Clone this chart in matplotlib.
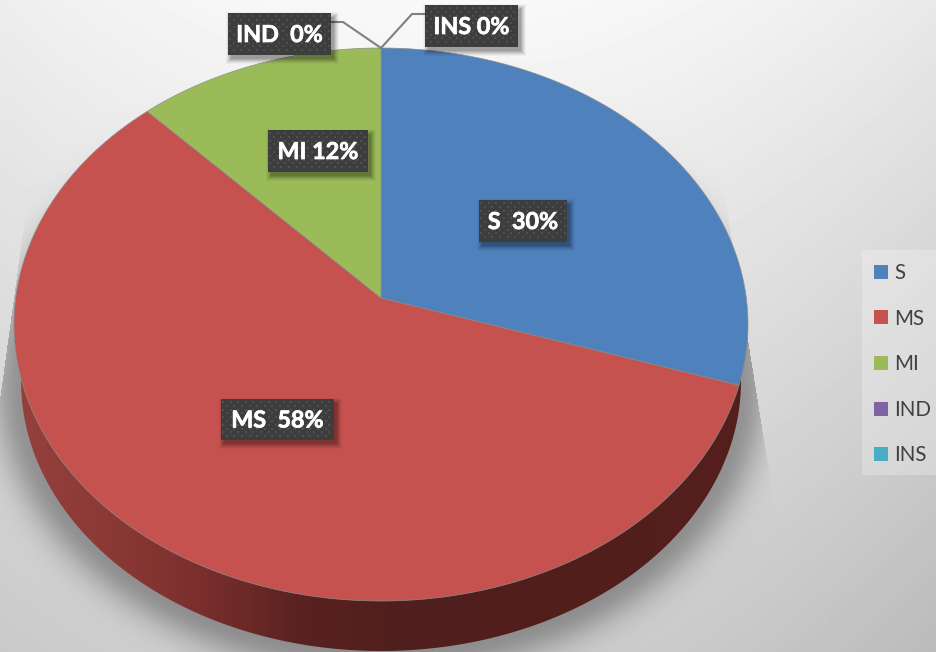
import numpy as np
import matplotlib
matplotlib.use('Agg')
import matplotlib.pyplot as plt
import matplotlib.patheffects as pe
from matplotlib.patches import Polygon, Rectangle

plt.rcParams['font.family'] = ['Lato', 'DejaVu Sans']

categories = ['S', 'MS', 'MI', 'IND', 'INS']
values = [30, 58, 12, 0, 0]
colors = ['#4f81bd', '#c5524f', '#9bbb59', '#8064a2', '#4bacc6']
label_texts = ['S  30%', 'MS  58%', 'MI 12%', 'IND  0%', 'INS 0%']

W, H = 937, 652

# label boxes: x0, x1, y0, y1
boxes = [(479, 567, 200, 242), (221, 334, 399, 440), (268, 368, 130, 172),
         (228, 331, 13, 55), (425, 518, 5, 47)]
leaders = {3: [(331, 22), (343, 22), (381, 48)], 4: [(425, 14), (412, 14), (381, 48)]}

# top face is a tilted disc, so the centre sits above the middle of the ellipse
APEX_X, APEX_Y = 381, 298
TOP_Y, BOT_Y = 48, 601
RX = 367
c = (APEX_Y * 2 - TOP_Y - BOT_Y) / (TOP_Y - BOT_Y)
a = TOP_Y * (1 + c) - APEX_Y
k = RX * np.sqrt(1 - c ** 2)


def project(theta):
    # theta runs clockwise from twelve o'clock
    u, v = np.sin(theta), np.cos(theta)
    den = 1 + c * v
    return APEX_X + k * u / den, (a * v + APEX_Y) / den


def wedge_outline(start, stop):
    t = np.linspace(start, stop, 200)
    x, y = project(t)
    return np.column_stack([np.r_[APEX_X, x], np.r_[APEX_Y, y]])


# lower rim of the disc
LOW_X, LOW_Y, LOW_RX, LOW_RY = 381, 381, 360, 270

fig = plt.figure(figsize=(W / 100, H / 100), dpi=100)
ax = fig.add_axes([0, 0, 1, 1])

# background and shadow
yy, xx = np.mgrid[0:H, 0:W] + 0.5
bg = 249 - 13 * (np.abs(xx - 430) / 450) ** 2 - 36 * (yy / H) - 10 * (xx / W) * (yy / H)
f = np.sqrt(((xx - LOW_X) / LOW_RX) ** 2 + ((yy - LOW_Y) / LOW_RY) ** 2)
d = np.clip((f - 1) * np.hypot(xx - LOW_X, yy - LOW_Y) / f, 0, None)
shadow = 0.32 * np.exp(-(d / 30) ** 2)
keep = (xx < 748 + (yy - 340) * 0.16) & (xx > 22 - (yy - 240) * 0.1375)
bg = bg * (1 - shadow * keep)
ax.imshow(np.clip(bg, 0, 255), cmap='gray', vmin=0, vmax=255, extent=[0, W, H, 0],
          aspect='auto', zorder=0, interpolation='bilinear')

# side wall
t = np.linspace(0, 2 * np.pi, 400)
low_poly = Polygon(np.column_stack([LOW_X + LOW_RX * np.sin(t), LOW_Y + LOW_RY * np.cos(t)]),
                   transform=ax.transData, facecolor='none', edgecolor='none')
ax.add_patch(low_poly)
stops = [20, 120, 200, 300, 400, 740]
r = np.interp(np.arange(W), stops, [150, 137, 122, 90, 80, 84])
g = np.interp(np.arange(W), stops, [64, 56, 47, 34, 31, 30])
b = np.interp(np.arange(W), stops, [60, 52, 45, 32, 29, 28])
side = np.dstack([r, g, b])[0:1].astype(np.uint8)
im = ax.imshow(side, extent=[0, W, H, 0], aspect='auto', zorder=1)
im.set_clip_path(low_poly)

# top face
edges = np.r_[0, np.cumsum(values)] / np.sum(values) * 2 * np.pi
for i in range(len(values)):
    if values[i] > 0:
        ax.add_patch(Polygon(wedge_outline(edges[i], edges[i + 1]), closed=True, facecolor=colors[i],
                             edgecolor='#8c8f8c', linewidth=0.5, zorder=2))

# leader lines
for i in leaders:
    lx, ly = zip(*leaders[i])
    ax.plot(lx, ly, color='#808080', linewidth=1.5, zorder=3, solid_joinstyle='miter')

# data labels
for i, (x0, x1, y0, y1) in enumerate(boxes):
    for grow, alpha in zip([5, 4, 3, 2, 1, 0], [0.03, 0.05, 0.06, 0.08, 0.09, 0.10]):
        ax.add_patch(Rectangle((x0 + 3 - grow, y0 + 4 - grow), x1 - x0 + 2 * grow, y1 - y0 + 2 * grow,
                               facecolor='black', edgecolor='none', alpha=alpha, zorder=4))
    ax.add_patch(Rectangle((x0, y0), x1 - x0, y1 - y0, facecolor='#3d3d3d', edgecolor='none', zorder=5))
    rows = np.arange(y0 + 3, y1 - 1, 3.8)
    for n, ry in enumerate(rows):
        cols = np.arange(x0 + 2 + (n % 2) * 3.8, x1 - 1, 7.6)
        ax.scatter(cols, np.full(len(cols), ry), s=3.5, marker='s', color='#4f4f4f', linewidths=0, zorder=6)
    ax.text((x0 + x1) / 2, (y0 + y1) / 2 + 1.5, label_texts[i], color='white', fontsize=16.8, fontweight='bold',
            ha='center', va='center', zorder=7,
            path_effects=[pe.withStroke(linewidth=0.5, foreground='white')])

# legend
ax.add_patch(Rectangle((862, 250), 75, 225, facecolor='white', edgecolor='none', alpha=0.25, zorder=8))
handles = [Rectangle((0, 0), 1, 1, facecolor=col, edgecolor='none') for col in colors]
leg = ax.legend(handles, categories, loc='upper left', bbox_to_anchor=(874, 263),
                bbox_transform=ax.transData, fontsize=14.8, frameon=False, handlelength=0.68,
                handleheight=0.68, handletextpad=0.29, labelspacing=1.246, borderaxespad=0,
                borderpad=0, labelcolor='#404040')
leg.set_zorder(9)

ax.set_xlim(0, W)
ax.set_ylim(H, 0)
ax.axis('off')

fig.savefig('out.png', dpi=100)
